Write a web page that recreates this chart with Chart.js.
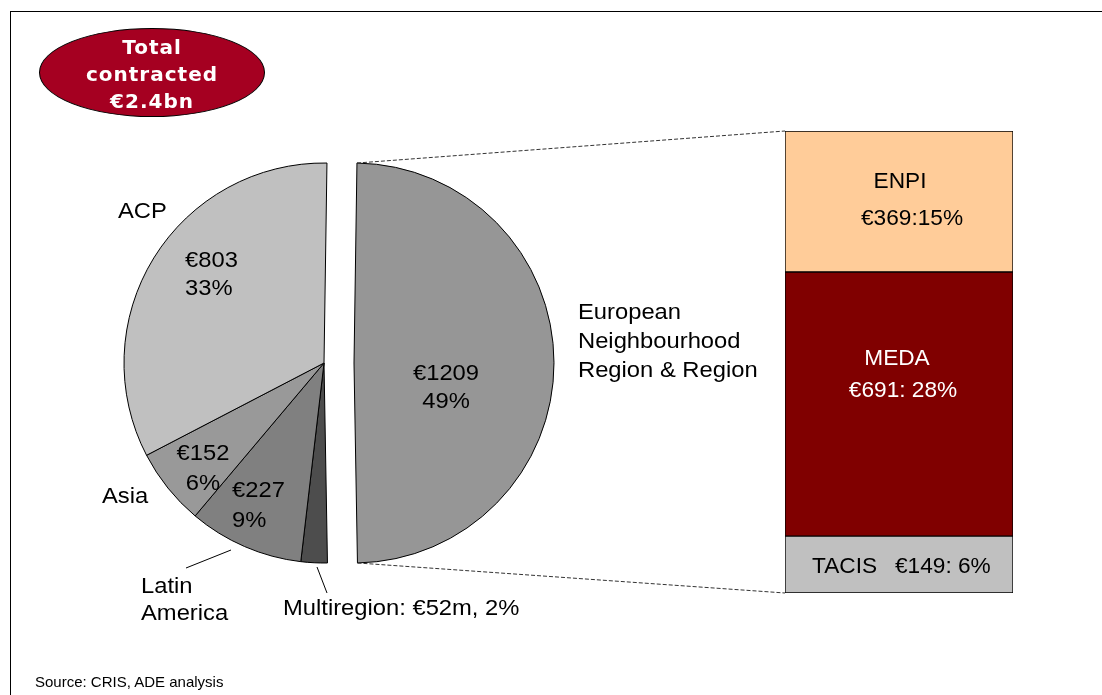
<!DOCTYPE html>
<html>
<head>
<meta charset="utf-8">
<script src="https://cdn.jsdelivr.net/npm/chart.js@4.4.1/dist/chart.umd.min.js"></script>
<style>
  html, body { margin: 0; padding: 0; background: #fff; }
  #stage { position: relative; width: 1102px; height: 695px; overflow: hidden; font-family: 'Liberation Sans', Arial, sans-serif; }
  #stage canvas { position: absolute; left: 0; top: 0; }
  .frame { position: absolute; left: 10px; top: 11px; right: -5px; bottom: -5px; border-top: 1px solid #000; border-left: 1px solid #000; }
  .badge { position: absolute; left: 39px; top: 28px; width: 224px; height: 82px; padding-top: 5px;
    border: 1px solid #000; border-radius: 50%; background: #a50021; color: #fff;
    font: bold 20px 'DejaVu Sans', sans-serif; letter-spacing: 1px; line-height: 27px; text-align: center; }
  .source { position: absolute; left: 35px; top: 674px; font-size: 15px; line-height: 15px; color: #000; }
</style>
</head>
<body>
<div id="stage">
  <div class="frame"></div>
  <canvas id="pieRest" width="1102" height="695"></canvas>
  <canvas id="pieEnr" width="1102" height="695"></canvas>
  <canvas id="bar" width="1102" height="695"></canvas>
  <div class="badge">Total<br>contracted<br>€2.4bn</div>
  <div class="source">Source: CRIS, ADE analysis</div>
</div>
<script>
// pie slices, clockwise from the top
const regions = ['European Neighbourhood Region & Region', 'Multiregion', 'Latin America', 'Asia', 'ACP'];
const regionValues = [1209, 52, 227, 152, 803];
const regionColors = ['#969696', '#4d4d4d', '#808080', '#999999', '#c0c0c0'];

// breakdown of the European Neighbourhood slice, top to bottom
const enrParts = ['ENPI', 'MEDA', 'TACIS'];
const enrValues = [369, 691, 149];
const enrColors = ['#ffcc99', '#800000', '#c0c0c0'];

const total = regionValues.reduce((a, b) => a + b, 0);
const enrTotal = enrValues.reduce((a, b) => a + b, 0);
const pct = v => Math.round(v / total * 100) + '%';
const NONE = 'rgba(0,0,0,0)';
const FONT = '22px "Liberation Sans", Arial, sans-serif';

function drawText(ctx, text, x, y, align, sx) {
  ctx.save();
  ctx.translate(x, y);
  ctx.scale(sx, 1);
  ctx.textAlign = align;
  ctx.fillText(text, 0, 0);
  ctx.restore();
}

// label offsets are measured from the pie centre; dy is the first baseline
const pieLabels = [
  { i: 0, lines: ['€' + regionValues[0], pct(regionValues[0])], dx: 92, dy: 17, gap: 28, align: 'center' },
  { i: 0, lines: ['European', 'Neighbourhood', 'Region & Region'], dx: 224, dy: -44, gap: 29, align: 'left' },
  { i: 1, lines: ['Multiregion: €' + regionValues[1] + 'm, ' + pct(regionValues[1])], dx: -41, dy: 252, gap: 0, align: 'left',
    leader: [3, 230, -7, 204] },
  { i: 2, lines: ['€' + regionValues[2], pct(regionValues[2])], dx: -92, dy: 134, gap: 30, align: 'left' },
  { i: 2, lines: ['Latin', 'America'], dx: -183, dy: 230, gap: 27, align: 'left',
    leader: [-138, 205, -93, 187] },
  { i: 3, lines: ['€' + regionValues[3], pct(regionValues[3])], dx: -121, dy: 97, gap: 30, align: 'center' },
  { i: 3, lines: ['Asia'], dx: -222, dy: 140, gap: 0, align: 'left' },
  { i: 4, lines: ['€' + regionValues[4], pct(regionValues[4])], dx: -139, dy: -96, gap: 28, align: 'left' },
  { i: 4, lines: ['ACP'], dx: -206, dy: -145, gap: 0, align: 'left' }
];

const sliceLabels = {
  id: 'sliceLabels',
  afterDatasetsDraw(chart, args, opts) {
    const ctx = chart.ctx;
    const arcs = chart.getDatasetMeta(0).data;
    ctx.save();
    ctx.font = FONT;
    ctx.fillStyle = '#000';
    ctx.strokeStyle = '#000';
    ctx.lineWidth = 1;
    pieLabels.filter(l => opts.show.includes(l.i)).forEach(l => {
      const arc = arcs[l.i];
      l.lines.forEach((t, k) => drawText(ctx, t, arc.x + l.dx, arc.y + l.dy + k * l.gap, l.align, 1.08));
      if (l.leader) {
        ctx.beginPath();
        ctx.moveTo(arc.x + l.leader[0], arc.y + l.leader[1]);
        ctx.lineTo(arc.x + l.leader[2], arc.y + l.leader[3]);
        ctx.stroke();
      }
    });
    ctx.restore();
  }
};

function pieConfig(visible, padRight) {
  return {
    type: 'pie',
    data: {
      labels: regions,
      datasets: [{
        data: regionValues,
        backgroundColor: regionColors.map((c, i) => visible.includes(i) ? c : NONE),
        borderColor: regionColors.map((c, i) => visible.includes(i) ? '#000' : NONE),
        borderWidth: 1
      }]
    },
    options: {
      responsive: false,
      animation: false,
      events: [],
      rotation: 0.85,
      radius: 200,
      layout: { padding: { left: 0, right: padRight, top: 31, bottom: 0 } },
      plugins: {
        legend: { display: false },
        tooltip: { enabled: false },
        sliceLabels: { show: visible }
      }
    },
    plugins: [sliceLabels]
  };
}

// the European Neighbourhood slice is drawn on its own canvas, pulled out to the right
const pieRest = new Chart(document.getElementById('pieRest'), pieConfig([1, 2, 3, 4], 454));
const pieEnr = new Chart(document.getElementById('pieEnr'), pieConfig([0], 394));

// bar label offsets from the centre of each segment
const barLabels = [
  { i: 0, text: enrParts[0], dx: 1, dy: -13.5, align: 'center', color: '#000' },
  { i: 0, text: '€' + enrValues[0] + ':' + pct(enrValues[0]), dx: 13, dy: 23.5, align: 'center', color: '#000' },
  { i: 1, text: enrParts[1], dx: -2, dy: -39, align: 'center', color: '#fff' },
  { i: 1, text: '€' + enrValues[1] + ': ' + pct(enrValues[1]), dx: 4, dy: -7, align: 'center', color: '#fff' },
  { i: 2, text: enrParts[2], dx: -87, dy: 8.5, align: 'left', color: '#000' },
  { i: 2, text: '€' + enrValues[2] + ': ' + pct(enrValues[2]), dx: -4, dy: 8.5, align: 'left', color: '#000' }
];

// datasets stack from the bottom, so feed them in reverse
const barDatasets = enrParts.map((p, i) => ({
  label: p,
  data: [enrValues[i]],
  backgroundColor: enrColors[i],
  borderColor: '#000',
  borderWidth: 1,
  borderSkipped: false,
  barPercentage: 1,
  categoryPercentage: 1
})).reverse();
const metaIndex = i => enrParts.length - 1 - i;

const barExtras = {
  id: 'barExtras',
  afterDatasetsDraw(chart) {
    const ctx = chart.ctx;
    ctx.save();
    ctx.font = FONT;
    barLabels.forEach(l => {
      const el = chart.getDatasetMeta(metaIndex(l.i)).data[0];
      ctx.fillStyle = l.color;
      drawText(ctx, l.text, el.x + l.dx, (el.y + el.base) / 2 + l.dy, l.align, 1.03);
    });

    // dashed lines joining the pulled-out slice to the bar
    const arc = pieEnr.getDatasetMeta(0).data[0];
    const top = chart.getDatasetMeta(metaIndex(0)).data[0];
    const bottom = chart.getDatasetMeta(metaIndex(enrParts.length - 1)).data[0];
    ctx.strokeStyle = '#333';
    ctx.lineWidth = 1;
    ctx.setLineDash([4, 2]);
    ctx.beginPath();
    ctx.moveTo(arc.x + arc.outerRadius * Math.cos(arc.startAngle), arc.y + arc.outerRadius * Math.sin(arc.startAngle));
    ctx.lineTo(top.x - top.width / 2, top.y);
    ctx.moveTo(arc.x + arc.outerRadius * Math.cos(arc.endAngle), arc.y + arc.outerRadius * Math.sin(arc.endAngle));
    ctx.lineTo(bottom.x - bottom.width / 2, bottom.base);
    ctx.stroke();
    ctx.restore();
  }
};

new Chart(document.getElementById('bar'), {
  type: 'bar',
  data: { labels: ['ENR'], datasets: barDatasets },
  options: {
    responsive: false,
    animation: false,
    events: [],
    layout: { padding: { left: 785, right: 89, top: 131, bottom: 102 } },
    scales: {
      x: { display: false, stacked: true },
      y: { display: false, stacked: true, min: 0, max: enrTotal }
    },
    plugins: { legend: { display: false }, tooltip: { enabled: false } }
  },
  plugins: [barExtras]
});
</script>
</body>
</html>
